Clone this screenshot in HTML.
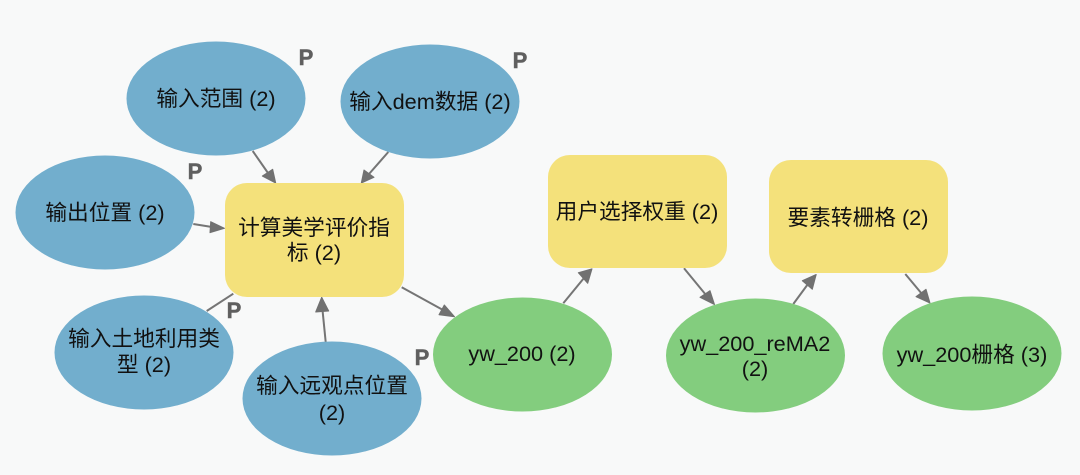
<!DOCTYPE html>
<html><head><meta charset="utf-8"><style>
html,body{margin:0;padding:0;background:#f8f9f9}
svg{display:block}
text{font-family:"Liberation Sans","Noto Sans CJK SC",sans-serif;font-size:21.7px;fill:#111;text-anchor:middle}
text.p{font-size:22px;font-weight:bold;fill:#5f5f5f;stroke:#5f5f5f;stroke-width:.5px}
line{stroke:#757575;stroke-width:2}
polygon{fill:#717171;stroke:#717171;stroke-width:1;stroke-linejoin:round}
</style></head><body>
<svg width="1080" height="475" viewBox="0 0 1080 475" xmlns="http://www.w3.org/2000/svg">
<rect width="1080" height="475" fill="#f8f9f9"/>
<line x1="252.7" y1="151" x2="268" y2="173"/><polygon points="275.7,183 262.3,176 272.7,169.3"/>
<line x1="388.3" y1="152" x2="369" y2="174"/><polygon points="361.3,183 364,170 374,177.3"/>
<line x1="193.3" y1="224" x2="212" y2="227"/><polygon points="224.5,228.3 210.7,221.7 210,232.7"/>
<line x1="206.7" y1="311" x2="233.3" y2="293.7"/>
<line x1="325.7" y1="342" x2="322.5" y2="310"/><polygon points="321.7,297.2 315.7,312 328.7,311"/>
<line x1="401.7" y1="287.3" x2="443" y2="310"/><polygon points="454.5,316.7 444.3,305 439,314.7"/>
<line x1="563.3" y1="303.3" x2="584" y2="278"/><polygon points="592,268.8 578.3,272.7 587.7,283.3"/>
<line x1="684" y1="268.3" x2="706" y2="295"/><polygon points="714.5,304.5 700,297.3 710,290.7"/>
<line x1="793.3" y1="304" x2="808" y2="284"/><polygon points="816.2,274.5 802.3,280.7 812.3,289.3"/>
<line x1="905.3" y1="274" x2="922" y2="294"/><polygon points="930,303 916,296.7 926,289.3"/>
<g fill="#72aecd">
<ellipse cx="216" cy="98.5" rx="89.5" ry="57"/>
<ellipse cx="430" cy="101.5" rx="89.5" ry="57"/>
<ellipse cx="105" cy="212.5" rx="89.5" ry="57"/>
<ellipse cx="144" cy="352.5" rx="89.5" ry="57"/>
<ellipse cx="332" cy="398.5" rx="89.5" ry="57"/>
</g>
<g fill="#83cd7e">
<ellipse cx="522.5" cy="354.5" rx="89.5" ry="57"/>
<ellipse cx="755.5" cy="355.5" rx="89.5" ry="57"/>
<ellipse cx="972" cy="353.5" rx="89.5" ry="57"/>
</g>
<g fill="#f4e17b">
<rect x="225" y="183" width="179" height="114" rx="22"/>
<rect x="548" y="155" width="179" height="113" rx="22"/>
<rect x="769" y="160" width="179" height="113" rx="22"/>
</g>
<text x="216" y="106">输入范围 (2)</text>
<text x="430" y="109">输入dem数据 (2)</text>
<text x="105" y="220">输出位置 (2)</text>
<text x="144" y="346">输入土地利用类</text>
<text x="144" y="372">型 (2)</text>
<text x="332" y="393">输入远观点位置</text>
<text x="332" y="420">(2)</text>
<text x="314" y="235">计算美学评价指</text>
<text x="314" y="260">标 (2)</text>
<text x="522" y="361">yw_200 (2)</text>
<text x="637" y="219">用户选择权重 (2)</text>
<text x="858" y="225">要素转栅格 (2)</text>
<text x="755" y="351">yw_200_reMA2</text>
<text x="755" y="376">(2)</text>
<text x="972" y="362">yw_200栅格 (3)</text>
<text class="p" x="306" y="65">P</text>
<text class="p" x="520" y="68">P</text>
<text class="p" x="195" y="179">P</text>
<text class="p" x="234" y="318">P</text>
<text class="p" x="422" y="365">P</text>
</svg>
</body></html>
